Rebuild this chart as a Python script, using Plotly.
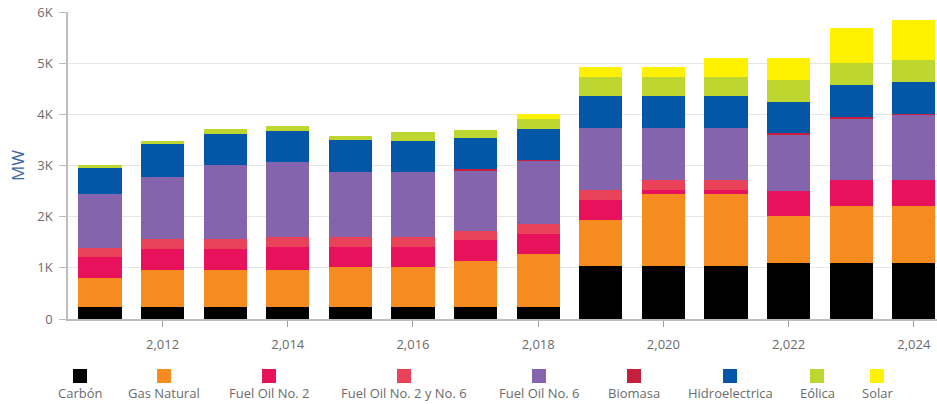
import plotly.graph_objects as go

# Installed capacity by source (MW), 2011-2024
years = list(range(2011, 2025))

carbon        = [240, 240, 240, 240, 240, 240, 240, 240, 1042, 1042, 1042, 1089, 1089, 1089]
gas_natural   = [567, 712, 712, 712, 783, 783, 900, 1031, 893, 1402, 1402, 931, 1126, 1126]
fuel_oil_2    = [400, 410, 410, 456, 385, 385, 405, 397, 391, 78, 78, 489, 502, 502]
fuel_oil_2y6  = [188, 196, 196, 195, 195, 195, 181, 195, 196, 195, 195, 0, 0, 0]
fuel_oil_6    = [1050, 1212, 1453, 1473, 1265, 1265, 1174, 1232, 1218, 1023, 1023, 1088, 1207, 1271]
biomasa       = [0, 0, 0, 0, 0, 0, 40, 20, 0, 0, 0, 35, 31, 20]
hidro         = [514, 645, 606, 606, 638, 606, 600, 600, 620, 620, 620, 618, 620, 620]
eolica        = [53, 65, 97, 98, 72, 176, 156, 190, 377, 377, 377, 425, 425, 436]
solar         = [0, 0, 0, 0, 0, 0, 0, 98, 195, 195, 359, 423, 683, 782]

series_names = ["Carbón", "Gas Natural", "Fuel Oil No. 2", "Fuel Oil No. 2 y No. 6",
                "Fuel Oil No. 6", "Biomasa", "Hidroelectrica", "Eólica", "Solar"]
series_values = [carbon, gas_natural, fuel_oil_2, fuel_oil_2y6, fuel_oil_6,
                 biomasa, hidro, eolica, solar]
series_colors = ["#000000", "#F68B1F", "#E8125C", "#EA4259", "#8465AD",
                 "#C51F3E", "#0456A6", "#BDD630", "#FFF200"]

y_ticks = [0, 1000, 2000, 3000, 4000, 5000, 6000]
y_tick_labels = ["0", "1K", "2K", "3K", "4K", "5K", "6K"]
x_ticks = [2012, 2014, 2016, 2018, 2020, 2022, 2024]

W, H = 937, 404
M_L, M_R, M_T, M_B = 68, 0, 12, 85
FONT = "Open Sans, Noto Sans, sans-serif"
GREY = "#6b6b6b"

fig = go.Figure()
for name, vals, col in zip(series_names, series_values, series_colors):
    fig.add_trace(go.Bar(
        x=years, y=vals, name=name, marker=dict(color=col, line=dict(width=0)),
        showlegend=False,
    ))

# Custom legend: colour swatch above each label
legend_px = [80, 164, 269, 404, 539, 634, 730, 817, 877]
plot_w = W - M_L - M_R
plot_h = H - M_T - M_B
shapes, annotations = [], []
for name, col, px in zip(series_names, series_colors, legend_px):
    xp = (px - M_L) / plot_w
    ys = (H - M_B - 376) / plot_h
    shapes.append(dict(
        type="rect", xref="paper", yref="paper",
        xsizemode="pixel", ysizemode="pixel",
        xanchor=xp, yanchor=ys, x0=-7, x1=7, y0=-7, y1=7,
        fillcolor=col, line=dict(width=0),
    ))
    annotations.append(dict(
        text=name, xref="paper", yref="paper",
        x=xp, y=(H - M_B - 393) / plot_h, xanchor="center", yanchor="middle",
        showarrow=False, font=dict(family=FONT, size=13, color=GREY),
    ))

fig.update_layout(
    width=W, height=H,
    margin=dict(l=M_L, r=M_R, t=M_T, b=M_B, pad=0),
    barmode="stack", bargap=0.31,
    plot_bgcolor="white", paper_bgcolor="white",
    font=dict(family=FONT, size=13, color=GREY),
    separators=".,",
    shapes=shapes, annotations=annotations,
    xaxis=dict(
        range=[2010.49, 2024.37], tickvals=x_ticks, tickformat=",d",
        showgrid=False, showline=True, linecolor="#bdbdbd", linewidth=1.5,
        ticks="outside", ticklen=6, tickcolor="#9e9e9e",
        ticklabelstandoff=7, tickfont=dict(size=13, color=GREY),
        zeroline=False,
    ),
    yaxis=dict(
        range=[0, 6000], tickvals=y_ticks, ticktext=y_tick_labels,
        showgrid=True, gridcolor="#e6e6e6", gridwidth=1,
        showline=True, linecolor="#bdbdbd", linewidth=1.5,
        ticks="outside", ticklen=7, tickcolor="#bdbdbd",
        ticklabelstandoff=4, tickfont=dict(size=13, color=GREY),
        zeroline=False,
        title=dict(text="MW", font=dict(size=17, color="#3A66A7"), standoff=8),
    ),
)

fig.write_html("out.html")
